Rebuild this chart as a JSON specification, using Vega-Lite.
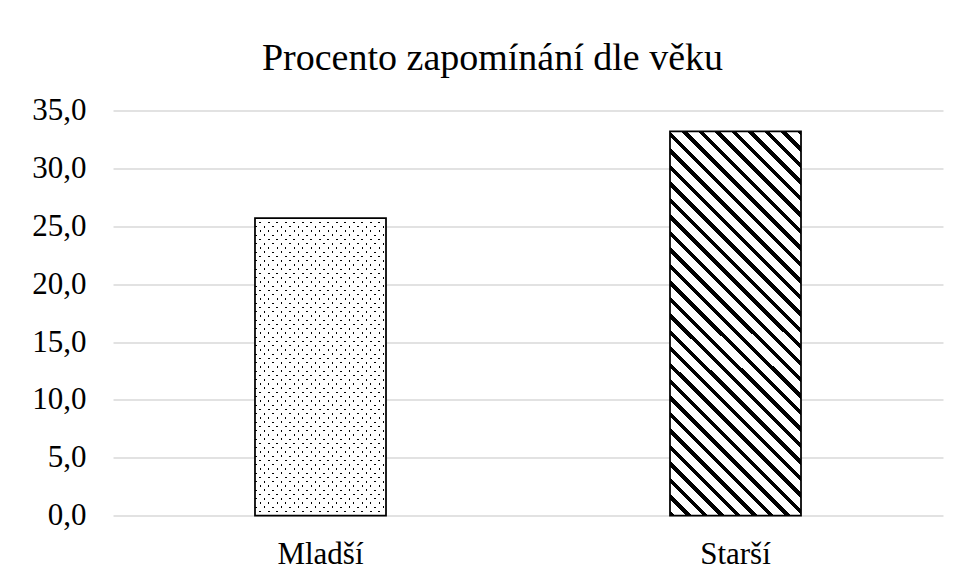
{
"$schema":"https://vega.github.io/schema/vega-lite/v6.json",
"width":830,"height":405.2,
"autosize":{"type":"none"},
"padding":{"left":113,"top":110.5,"right":18,"bottom":65.3},
"background":"#ffffff",
"config":{"view":{"stroke":null},"font":"Liberation Serif"},
"title":{"text":"Procento zapomínání dle věku","fontSize":38,"font":"Liberation Serif","fontWeight":"normal","color":"#000000","anchor":"middle","frame":"group","dx":-35.5,"dy":55.5,"baseline":"alphabetic","offset":42},
"data":{"values":[{"vek":"Mladší","procento":25.7},{"vek":"Starší","procento":33.2}]},
"encoding":{
"x":{"field":"vek","type":"nominal","sort":["Mladší","Starší"],"scale":{"paddingInner":0,"paddingOuter":0},"axis":{"title":null,"labelAngle":0,"labelFont":"Liberation Serif","labelFontSize":31,"labelColor":"#000000","ticks":false,"tickSize":0,"domain":false,"labelPadding":47.5,"labelBaseline":"alphabetic","grid":false}},
"y":{"field":"procento","type":"quantitative","scale":{"domain":[0,35],"nice":false},"axis":{"title":null,"values":[0,5,10,15,20,25,30,35],"labelExpr":"replace(format(datum.value,'.1f'),'.',',')","labelFont":"Liberation Serif","labelFontSize":31,"labelColor":"#000000","ticks":false,"tickSize":0,"domain":false,"labelPadding":27,"gridColor":"#d9d9d9","gridWidth":1.5}}
},
"layer":[
{"transform":[{"filter":"datum.vek==='Mladší'"}],"mark":{"type":"bar","width":{"band":0.3157},"strokeWidth":0,"fill":{"gradient":"linear","x1":0,"y1":1,"x2":1.05378,"y2":-1.39312,"stops":[
{"offset":0,"color":"#000"},{"offset":0.0025,"color":"#000"},{"offset":0.0025,"color":"#fff"},{"offset":0.01,"color":"#fff"},
{"offset":0.01,"color":"#000"},{"offset":0.0125,"color":"#000"},{"offset":0.0125,"color":"#fff"},{"offset":0.02,"color":"#fff"},
{"offset":0.02,"color":"#000"},{"offset":0.0225,"color":"#000"},{"offset":0.0225,"color":"#fff"},{"offset":0.03,"color":"#fff"},
{"offset":0.03,"color":"#000"},{"offset":0.0325,"color":"#000"},{"offset":0.0325,"color":"#fff"},{"offset":0.04,"color":"#fff"},
{"offset":0.04,"color":"#000"},{"offset":0.0425,"color":"#000"},{"offset":0.0425,"color":"#fff"},{"offset":0.05,"color":"#fff"},
{"offset":0.05,"color":"#000"},{"offset":0.0525,"color":"#000"},{"offset":0.0525,"color":"#fff"},{"offset":0.06,"color":"#fff"},
{"offset":0.06,"color":"#000"},{"offset":0.0625,"color":"#000"},{"offset":0.0625,"color":"#fff"},{"offset":0.07,"color":"#fff"},
{"offset":0.07,"color":"#000"},{"offset":0.0725,"color":"#000"},{"offset":0.0725,"color":"#fff"},{"offset":0.08,"color":"#fff"},
{"offset":0.08,"color":"#000"},{"offset":0.0825,"color":"#000"},{"offset":0.0825,"color":"#fff"},{"offset":0.09,"color":"#fff"},
{"offset":0.09,"color":"#000"},{"offset":0.0925,"color":"#000"},{"offset":0.0925,"color":"#fff"},{"offset":0.10,"color":"#fff"},
{"offset":0.10,"color":"#000"},{"offset":0.1025,"color":"#000"},{"offset":0.1025,"color":"#fff"},{"offset":0.11,"color":"#fff"},
{"offset":0.11,"color":"#000"},{"offset":0.1125,"color":"#000"},{"offset":0.1125,"color":"#fff"},{"offset":0.12,"color":"#fff"},
{"offset":0.12,"color":"#000"},{"offset":0.1225,"color":"#000"},{"offset":0.1225,"color":"#fff"},{"offset":0.13,"color":"#fff"},
{"offset":0.13,"color":"#000"},{"offset":0.1325,"color":"#000"},{"offset":0.1325,"color":"#fff"},{"offset":0.14,"color":"#fff"},
{"offset":0.14,"color":"#000"},{"offset":0.1425,"color":"#000"},{"offset":0.1425,"color":"#fff"},{"offset":0.15,"color":"#fff"},
{"offset":0.15,"color":"#000"},{"offset":0.1525,"color":"#000"},{"offset":0.1525,"color":"#fff"},{"offset":0.16,"color":"#fff"},
{"offset":0.16,"color":"#000"},{"offset":0.1625,"color":"#000"},{"offset":0.1625,"color":"#fff"},{"offset":0.17,"color":"#fff"},
{"offset":0.17,"color":"#000"},{"offset":0.1725,"color":"#000"},{"offset":0.1725,"color":"#fff"},{"offset":0.18,"color":"#fff"},
{"offset":0.18,"color":"#000"},{"offset":0.1825,"color":"#000"},{"offset":0.1825,"color":"#fff"},{"offset":0.19,"color":"#fff"},
{"offset":0.19,"color":"#000"},{"offset":0.1925,"color":"#000"},{"offset":0.1925,"color":"#fff"},{"offset":0.20,"color":"#fff"},
{"offset":0.20,"color":"#000"},{"offset":0.2025,"color":"#000"},{"offset":0.2025,"color":"#fff"},{"offset":0.21,"color":"#fff"},
{"offset":0.21,"color":"#000"},{"offset":0.2125,"color":"#000"},{"offset":0.2125,"color":"#fff"},{"offset":0.22,"color":"#fff"},
{"offset":0.22,"color":"#000"},{"offset":0.2225,"color":"#000"},{"offset":0.2225,"color":"#fff"},{"offset":0.23,"color":"#fff"},
{"offset":0.23,"color":"#000"},{"offset":0.2325,"color":"#000"},{"offset":0.2325,"color":"#fff"},{"offset":0.24,"color":"#fff"},
{"offset":0.24,"color":"#000"},{"offset":0.2425,"color":"#000"},{"offset":0.2425,"color":"#fff"},{"offset":0.25,"color":"#fff"},
{"offset":0.25,"color":"#000"},{"offset":0.2525,"color":"#000"},{"offset":0.2525,"color":"#fff"},{"offset":0.26,"color":"#fff"},
{"offset":0.26,"color":"#000"},{"offset":0.2625,"color":"#000"},{"offset":0.2625,"color":"#fff"},{"offset":0.27,"color":"#fff"},
{"offset":0.27,"color":"#000"},{"offset":0.2725,"color":"#000"},{"offset":0.2725,"color":"#fff"},{"offset":0.28,"color":"#fff"},
{"offset":0.28,"color":"#000"},{"offset":0.2825,"color":"#000"},{"offset":0.2825,"color":"#fff"},{"offset":0.29,"color":"#fff"},
{"offset":0.29,"color":"#000"},{"offset":0.2925,"color":"#000"},{"offset":0.2925,"color":"#fff"},{"offset":0.30,"color":"#fff"},
{"offset":0.30,"color":"#000"},{"offset":0.3025,"color":"#000"},{"offset":0.3025,"color":"#fff"},{"offset":0.31,"color":"#fff"},
{"offset":0.31,"color":"#000"},{"offset":0.3125,"color":"#000"},{"offset":0.3125,"color":"#fff"},{"offset":0.32,"color":"#fff"},
{"offset":0.32,"color":"#000"},{"offset":0.3225,"color":"#000"},{"offset":0.3225,"color":"#fff"},{"offset":0.33,"color":"#fff"},
{"offset":0.33,"color":"#000"},{"offset":0.3325,"color":"#000"},{"offset":0.3325,"color":"#fff"},{"offset":0.34,"color":"#fff"},
{"offset":0.34,"color":"#000"},{"offset":0.3425,"color":"#000"},{"offset":0.3425,"color":"#fff"},{"offset":0.35,"color":"#fff"},
{"offset":0.35,"color":"#000"},{"offset":0.3525,"color":"#000"},{"offset":0.3525,"color":"#fff"},{"offset":0.36,"color":"#fff"},
{"offset":0.36,"color":"#000"},{"offset":0.3625,"color":"#000"},{"offset":0.3625,"color":"#fff"},{"offset":0.37,"color":"#fff"},
{"offset":0.37,"color":"#000"},{"offset":0.3725,"color":"#000"},{"offset":0.3725,"color":"#fff"},{"offset":0.38,"color":"#fff"},
{"offset":0.38,"color":"#000"},{"offset":0.3825,"color":"#000"},{"offset":0.3825,"color":"#fff"},{"offset":0.39,"color":"#fff"},
{"offset":0.39,"color":"#000"},{"offset":0.3925,"color":"#000"},{"offset":0.3925,"color":"#fff"},{"offset":0.40,"color":"#fff"},
{"offset":0.40,"color":"#000"},{"offset":0.4025,"color":"#000"},{"offset":0.4025,"color":"#fff"},{"offset":0.41,"color":"#fff"},
{"offset":0.41,"color":"#000"},{"offset":0.4125,"color":"#000"},{"offset":0.4125,"color":"#fff"},{"offset":0.42,"color":"#fff"},
{"offset":0.42,"color":"#000"},{"offset":0.4225,"color":"#000"},{"offset":0.4225,"color":"#fff"},{"offset":0.43,"color":"#fff"},
{"offset":0.43,"color":"#000"},{"offset":0.4325,"color":"#000"},{"offset":0.4325,"color":"#fff"},{"offset":0.44,"color":"#fff"},
{"offset":0.44,"color":"#000"},{"offset":0.4425,"color":"#000"},{"offset":0.4425,"color":"#fff"},{"offset":0.45,"color":"#fff"},
{"offset":0.45,"color":"#000"},{"offset":0.4525,"color":"#000"},{"offset":0.4525,"color":"#fff"},{"offset":0.46,"color":"#fff"},
{"offset":0.46,"color":"#000"},{"offset":0.4625,"color":"#000"},{"offset":0.4625,"color":"#fff"},{"offset":0.47,"color":"#fff"},
{"offset":0.47,"color":"#000"},{"offset":0.4725,"color":"#000"},{"offset":0.4725,"color":"#fff"},{"offset":0.48,"color":"#fff"},
{"offset":0.48,"color":"#000"},{"offset":0.4825,"color":"#000"},{"offset":0.4825,"color":"#fff"},{"offset":0.49,"color":"#fff"},
{"offset":0.49,"color":"#000"},{"offset":0.4925,"color":"#000"},{"offset":0.4925,"color":"#fff"},{"offset":0.50,"color":"#fff"},
{"offset":0.50,"color":"#000"},{"offset":0.5025,"color":"#000"},{"offset":0.5025,"color":"#fff"},{"offset":0.51,"color":"#fff"}
]}}},
{"transform":[{"filter":"datum.vek==='Mladší'"}],"mark":{"type":"bar","width":{"band":0.3157},"stroke":"#000000","strokeWidth":1.75,"fill":{"gradient":"linear","x1":0,"y1":0,"x2":1.05378,"y2":2.39312,"stops":[
{"offset":0,"color":"transparent"},{"offset":0.0025,"color":"transparent"},{"offset":0.0025,"color":"#fff"},{"offset":0.01,"color":"#fff"},
{"offset":0.01,"color":"transparent"},{"offset":0.0125,"color":"transparent"},{"offset":0.0125,"color":"#fff"},{"offset":0.02,"color":"#fff"},
{"offset":0.02,"color":"transparent"},{"offset":0.0225,"color":"transparent"},{"offset":0.0225,"color":"#fff"},{"offset":0.03,"color":"#fff"},
{"offset":0.03,"color":"transparent"},{"offset":0.0325,"color":"transparent"},{"offset":0.0325,"color":"#fff"},{"offset":0.04,"color":"#fff"},
{"offset":0.04,"color":"transparent"},{"offset":0.0425,"color":"transparent"},{"offset":0.0425,"color":"#fff"},{"offset":0.05,"color":"#fff"},
{"offset":0.05,"color":"transparent"},{"offset":0.0525,"color":"transparent"},{"offset":0.0525,"color":"#fff"},{"offset":0.06,"color":"#fff"},
{"offset":0.06,"color":"transparent"},{"offset":0.0625,"color":"transparent"},{"offset":0.0625,"color":"#fff"},{"offset":0.07,"color":"#fff"},
{"offset":0.07,"color":"transparent"},{"offset":0.0725,"color":"transparent"},{"offset":0.0725,"color":"#fff"},{"offset":0.08,"color":"#fff"},
{"offset":0.08,"color":"transparent"},{"offset":0.0825,"color":"transparent"},{"offset":0.0825,"color":"#fff"},{"offset":0.09,"color":"#fff"},
{"offset":0.09,"color":"transparent"},{"offset":0.0925,"color":"transparent"},{"offset":0.0925,"color":"#fff"},{"offset":0.10,"color":"#fff"},
{"offset":0.10,"color":"transparent"},{"offset":0.1025,"color":"transparent"},{"offset":0.1025,"color":"#fff"},{"offset":0.11,"color":"#fff"},
{"offset":0.11,"color":"transparent"},{"offset":0.1125,"color":"transparent"},{"offset":0.1125,"color":"#fff"},{"offset":0.12,"color":"#fff"},
{"offset":0.12,"color":"transparent"},{"offset":0.1225,"color":"transparent"},{"offset":0.1225,"color":"#fff"},{"offset":0.13,"color":"#fff"},
{"offset":0.13,"color":"transparent"},{"offset":0.1325,"color":"transparent"},{"offset":0.1325,"color":"#fff"},{"offset":0.14,"color":"#fff"},
{"offset":0.14,"color":"transparent"},{"offset":0.1425,"color":"transparent"},{"offset":0.1425,"color":"#fff"},{"offset":0.15,"color":"#fff"},
{"offset":0.15,"color":"transparent"},{"offset":0.1525,"color":"transparent"},{"offset":0.1525,"color":"#fff"},{"offset":0.16,"color":"#fff"},
{"offset":0.16,"color":"transparent"},{"offset":0.1625,"color":"transparent"},{"offset":0.1625,"color":"#fff"},{"offset":0.17,"color":"#fff"},
{"offset":0.17,"color":"transparent"},{"offset":0.1725,"color":"transparent"},{"offset":0.1725,"color":"#fff"},{"offset":0.18,"color":"#fff"},
{"offset":0.18,"color":"transparent"},{"offset":0.1825,"color":"transparent"},{"offset":0.1825,"color":"#fff"},{"offset":0.19,"color":"#fff"},
{"offset":0.19,"color":"transparent"},{"offset":0.1925,"color":"transparent"},{"offset":0.1925,"color":"#fff"},{"offset":0.20,"color":"#fff"},
{"offset":0.20,"color":"transparent"},{"offset":0.2025,"color":"transparent"},{"offset":0.2025,"color":"#fff"},{"offset":0.21,"color":"#fff"},
{"offset":0.21,"color":"transparent"},{"offset":0.2125,"color":"transparent"},{"offset":0.2125,"color":"#fff"},{"offset":0.22,"color":"#fff"},
{"offset":0.22,"color":"transparent"},{"offset":0.2225,"color":"transparent"},{"offset":0.2225,"color":"#fff"},{"offset":0.23,"color":"#fff"},
{"offset":0.23,"color":"transparent"},{"offset":0.2325,"color":"transparent"},{"offset":0.2325,"color":"#fff"},{"offset":0.24,"color":"#fff"},
{"offset":0.24,"color":"transparent"},{"offset":0.2425,"color":"transparent"},{"offset":0.2425,"color":"#fff"},{"offset":0.25,"color":"#fff"},
{"offset":0.25,"color":"transparent"},{"offset":0.2525,"color":"transparent"},{"offset":0.2525,"color":"#fff"},{"offset":0.26,"color":"#fff"},
{"offset":0.26,"color":"transparent"},{"offset":0.2625,"color":"transparent"},{"offset":0.2625,"color":"#fff"},{"offset":0.27,"color":"#fff"},
{"offset":0.27,"color":"transparent"},{"offset":0.2725,"color":"transparent"},{"offset":0.2725,"color":"#fff"},{"offset":0.28,"color":"#fff"},
{"offset":0.28,"color":"transparent"},{"offset":0.2825,"color":"transparent"},{"offset":0.2825,"color":"#fff"},{"offset":0.29,"color":"#fff"},
{"offset":0.29,"color":"transparent"},{"offset":0.2925,"color":"transparent"},{"offset":0.2925,"color":"#fff"},{"offset":0.30,"color":"#fff"},
{"offset":0.30,"color":"transparent"},{"offset":0.3025,"color":"transparent"},{"offset":0.3025,"color":"#fff"},{"offset":0.31,"color":"#fff"},
{"offset":0.31,"color":"transparent"},{"offset":0.3125,"color":"transparent"},{"offset":0.3125,"color":"#fff"},{"offset":0.32,"color":"#fff"},
{"offset":0.32,"color":"transparent"},{"offset":0.3225,"color":"transparent"},{"offset":0.3225,"color":"#fff"},{"offset":0.33,"color":"#fff"},
{"offset":0.33,"color":"transparent"},{"offset":0.3325,"color":"transparent"},{"offset":0.3325,"color":"#fff"},{"offset":0.34,"color":"#fff"},
{"offset":0.34,"color":"transparent"},{"offset":0.3425,"color":"transparent"},{"offset":0.3425,"color":"#fff"},{"offset":0.35,"color":"#fff"},
{"offset":0.35,"color":"transparent"},{"offset":0.3525,"color":"transparent"},{"offset":0.3525,"color":"#fff"},{"offset":0.36,"color":"#fff"},
{"offset":0.36,"color":"transparent"},{"offset":0.3625,"color":"transparent"},{"offset":0.3625,"color":"#fff"},{"offset":0.37,"color":"#fff"},
{"offset":0.37,"color":"transparent"},{"offset":0.3725,"color":"transparent"},{"offset":0.3725,"color":"#fff"},{"offset":0.38,"color":"#fff"},
{"offset":0.38,"color":"transparent"},{"offset":0.3825,"color":"transparent"},{"offset":0.3825,"color":"#fff"},{"offset":0.39,"color":"#fff"},
{"offset":0.39,"color":"transparent"},{"offset":0.3925,"color":"transparent"},{"offset":0.3925,"color":"#fff"},{"offset":0.40,"color":"#fff"},
{"offset":0.40,"color":"transparent"},{"offset":0.4025,"color":"transparent"},{"offset":0.4025,"color":"#fff"},{"offset":0.41,"color":"#fff"},
{"offset":0.41,"color":"transparent"},{"offset":0.4125,"color":"transparent"},{"offset":0.4125,"color":"#fff"},{"offset":0.42,"color":"#fff"},
{"offset":0.42,"color":"transparent"},{"offset":0.4225,"color":"transparent"},{"offset":0.4225,"color":"#fff"},{"offset":0.43,"color":"#fff"},
{"offset":0.43,"color":"transparent"},{"offset":0.4325,"color":"transparent"},{"offset":0.4325,"color":"#fff"},{"offset":0.44,"color":"#fff"},
{"offset":0.44,"color":"transparent"},{"offset":0.4425,"color":"transparent"},{"offset":0.4425,"color":"#fff"},{"offset":0.45,"color":"#fff"},
{"offset":0.45,"color":"transparent"},{"offset":0.4525,"color":"transparent"},{"offset":0.4525,"color":"#fff"},{"offset":0.46,"color":"#fff"},
{"offset":0.46,"color":"transparent"},{"offset":0.4625,"color":"transparent"},{"offset":0.4625,"color":"#fff"},{"offset":0.47,"color":"#fff"},
{"offset":0.47,"color":"transparent"},{"offset":0.4725,"color":"transparent"},{"offset":0.4725,"color":"#fff"},{"offset":0.48,"color":"#fff"},
{"offset":0.48,"color":"transparent"},{"offset":0.4825,"color":"transparent"},{"offset":0.4825,"color":"#fff"},{"offset":0.49,"color":"#fff"},
{"offset":0.49,"color":"transparent"},{"offset":0.4925,"color":"transparent"},{"offset":0.4925,"color":"#fff"},{"offset":0.50,"color":"#fff"},
{"offset":0.50,"color":"transparent"},{"offset":0.5025,"color":"transparent"},{"offset":0.5025,"color":"#fff"},{"offset":0.51,"color":"#fff"}
]}}},
{"transform":[{"filter":"datum.vek==='Starší'"}],"mark":{"type":"bar","width":{"band":0.3157},"stroke":"#000000","strokeWidth":1.75,"fill":{"gradient":"linear","x1":0,"y1":1,"x2":1.30694,"y2":-2.84101,"stops":[
{"offset":0,"color":"#000"},{"offset":0.0033,"color":"#000"},{"offset":0.0033,"color":"#fff"},{"offset":0.01,"color":"#fff"},
{"offset":0.01,"color":"#000"},{"offset":0.0133,"color":"#000"},{"offset":0.0133,"color":"#fff"},{"offset":0.02,"color":"#fff"},
{"offset":0.02,"color":"#000"},{"offset":0.0233,"color":"#000"},{"offset":0.0233,"color":"#fff"},{"offset":0.03,"color":"#fff"},
{"offset":0.03,"color":"#000"},{"offset":0.0333,"color":"#000"},{"offset":0.0333,"color":"#fff"},{"offset":0.04,"color":"#fff"},
{"offset":0.04,"color":"#000"},{"offset":0.0433,"color":"#000"},{"offset":0.0433,"color":"#fff"},{"offset":0.05,"color":"#fff"},
{"offset":0.05,"color":"#000"},{"offset":0.0533,"color":"#000"},{"offset":0.0533,"color":"#fff"},{"offset":0.06,"color":"#fff"},
{"offset":0.06,"color":"#000"},{"offset":0.0633,"color":"#000"},{"offset":0.0633,"color":"#fff"},{"offset":0.07,"color":"#fff"},
{"offset":0.07,"color":"#000"},{"offset":0.0733,"color":"#000"},{"offset":0.0733,"color":"#fff"},{"offset":0.08,"color":"#fff"},
{"offset":0.08,"color":"#000"},{"offset":0.0833,"color":"#000"},{"offset":0.0833,"color":"#fff"},{"offset":0.09,"color":"#fff"},
{"offset":0.09,"color":"#000"},{"offset":0.0933,"color":"#000"},{"offset":0.0933,"color":"#fff"},{"offset":0.10,"color":"#fff"},
{"offset":0.10,"color":"#000"},{"offset":0.1033,"color":"#000"},{"offset":0.1033,"color":"#fff"},{"offset":0.11,"color":"#fff"},
{"offset":0.11,"color":"#000"},{"offset":0.1133,"color":"#000"},{"offset":0.1133,"color":"#fff"},{"offset":0.12,"color":"#fff"},
{"offset":0.12,"color":"#000"},{"offset":0.1233,"color":"#000"},{"offset":0.1233,"color":"#fff"},{"offset":0.13,"color":"#fff"},
{"offset":0.13,"color":"#000"},{"offset":0.1333,"color":"#000"},{"offset":0.1333,"color":"#fff"},{"offset":0.14,"color":"#fff"},
{"offset":0.14,"color":"#000"},{"offset":0.1433,"color":"#000"},{"offset":0.1433,"color":"#fff"},{"offset":0.15,"color":"#fff"},
{"offset":0.15,"color":"#000"},{"offset":0.1533,"color":"#000"},{"offset":0.1533,"color":"#fff"},{"offset":0.16,"color":"#fff"},
{"offset":0.16,"color":"#000"},{"offset":0.1633,"color":"#000"},{"offset":0.1633,"color":"#fff"},{"offset":0.17,"color":"#fff"},
{"offset":0.17,"color":"#000"},{"offset":0.1733,"color":"#000"},{"offset":0.1733,"color":"#fff"},{"offset":0.18,"color":"#fff"},
{"offset":0.18,"color":"#000"},{"offset":0.1833,"color":"#000"},{"offset":0.1833,"color":"#fff"},{"offset":0.19,"color":"#fff"},
{"offset":0.19,"color":"#000"},{"offset":0.1933,"color":"#000"},{"offset":0.1933,"color":"#fff"},{"offset":0.20,"color":"#fff"},
{"offset":0.20,"color":"#000"},{"offset":0.2033,"color":"#000"},{"offset":0.2033,"color":"#fff"},{"offset":0.21,"color":"#fff"},
{"offset":0.21,"color":"#000"},{"offset":0.2133,"color":"#000"},{"offset":0.2133,"color":"#fff"},{"offset":0.22,"color":"#fff"},
{"offset":0.22,"color":"#000"},{"offset":0.2233,"color":"#000"},{"offset":0.2233,"color":"#fff"},{"offset":0.23,"color":"#fff"},
{"offset":0.23,"color":"#000"},{"offset":0.2333,"color":"#000"},{"offset":0.2333,"color":"#fff"},{"offset":0.24,"color":"#fff"},
{"offset":0.24,"color":"#000"},{"offset":0.2433,"color":"#000"},{"offset":0.2433,"color":"#fff"},{"offset":0.25,"color":"#fff"},
{"offset":0.25,"color":"#000"},{"offset":0.2533,"color":"#000"},{"offset":0.2533,"color":"#fff"},{"offset":0.26,"color":"#fff"},
{"offset":0.26,"color":"#000"},{"offset":0.2633,"color":"#000"},{"offset":0.2633,"color":"#fff"},{"offset":0.27,"color":"#fff"},
{"offset":0.27,"color":"#000"},{"offset":0.2733,"color":"#000"},{"offset":0.2733,"color":"#fff"},{"offset":0.28,"color":"#fff"},
{"offset":0.28,"color":"#000"},{"offset":0.2833,"color":"#000"},{"offset":0.2833,"color":"#fff"},{"offset":0.29,"color":"#fff"},
{"offset":0.29,"color":"#000"},{"offset":0.2933,"color":"#000"},{"offset":0.2933,"color":"#fff"},{"offset":0.30,"color":"#fff"},
{"offset":0.30,"color":"#000"},{"offset":0.3033,"color":"#000"},{"offset":0.3033,"color":"#fff"},{"offset":0.31,"color":"#fff"},
{"offset":0.31,"color":"#000"},{"offset":0.3133,"color":"#000"},{"offset":0.3133,"color":"#fff"},{"offset":0.32,"color":"#fff"},
{"offset":0.32,"color":"#000"},{"offset":0.3233,"color":"#000"},{"offset":0.3233,"color":"#fff"},{"offset":0.33,"color":"#fff"}
]}}}
]
}
